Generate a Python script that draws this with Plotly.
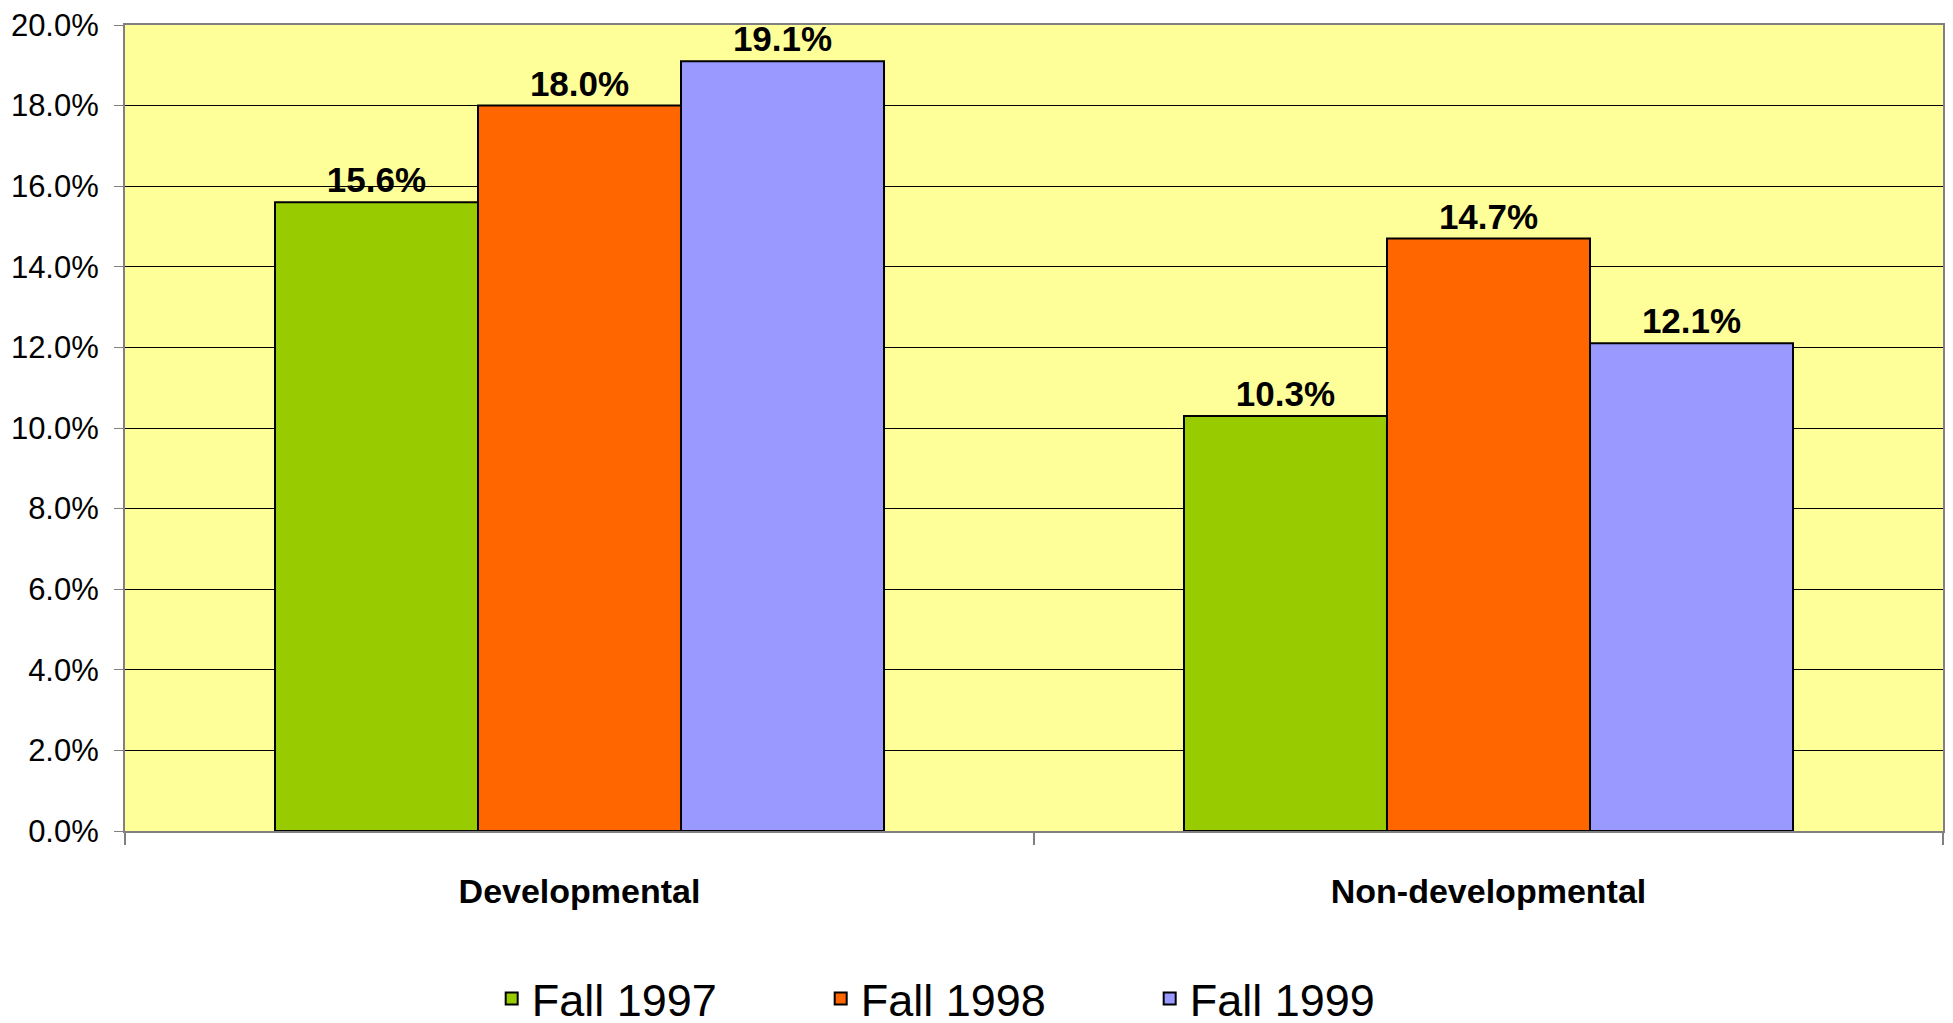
"""Share of students by course type, Fall 1997-1999."""

import plotly.graph_objects as go

categories = ["Developmental", "Non-developmental"]
fall_1997 = [0.156, 0.103]
fall_1998 = [0.180, 0.147]
fall_1999 = [0.191, 0.121]

series = [
    ("Fall 1997", fall_1997, "#99CC00"),
    ("Fall 1998", fall_1998, "#FF6600"),
    ("Fall 1999", fall_1999, "#9999FF"),
]

font_family = "Liberation Sans, Arial, sans-serif"

fig = go.Figure()
for name, values, color in series:
    fig.add_trace(
        go.Bar(
            x=categories,
            y=values,
            name=name,
            marker=dict(color=color, line=dict(color="#000000", width=2)),
            texttemplate="%{y:.1%}",
            textposition="outside",
            textfont=dict(size=35, color="#000000", weight="bold"),
            cliponaxis=False,
        )
    )

# the page body adds an 8px offset, so margins are trimmed to match
fig.update_layout(
    width=1953,
    height=1045,
    margin=dict(l=117, r=18, t=17, b=222),
    paper_bgcolor="#FFFFFF",
    plot_bgcolor="#FFFF99",
    barmode="group",
    bargap=0.33,
    bargroupgap=0,
    font=dict(family=font_family, color="#000000"),
    legend=dict(
        orientation="h",
        x=0.2017,
        xanchor="left",
        y=-0.208,
        yanchor="middle",
        font=dict(size=45),
        entrywidth=284,
        entrywidthmode="pixels",
        itemwidth=30,
    ),
)
fig.update_yaxes(
    range=[0, 0.20],
    dtick=0.02,
    tickformat=".1%",
    tickfont=dict(size=31),
    showgrid=True,
    gridcolor="#000000",
    gridwidth=1,
    ticks="outside",
    ticklen=9,
    tickcolor="#808080",
    ticklabelstandoff=9,
    ticklabeloverflow="allow",
    showline=True,
    linecolor="#808080",
    linewidth=2,
    mirror=True,
    zeroline=False,
    automargin=False,
)
fig.update_xaxes(
    tickfont=dict(size=34, weight="bold"),
    ticks="outside",
    tickson="boundaries",
    ticklen=12,
    tickcolor="#808080",
    tickwidth=2,
    ticklabelstandoff=29,
    showline=True,
    linecolor="#808080",
    linewidth=2,
    mirror=True,
    automargin=False,
)

fig.write_html("out.html")
